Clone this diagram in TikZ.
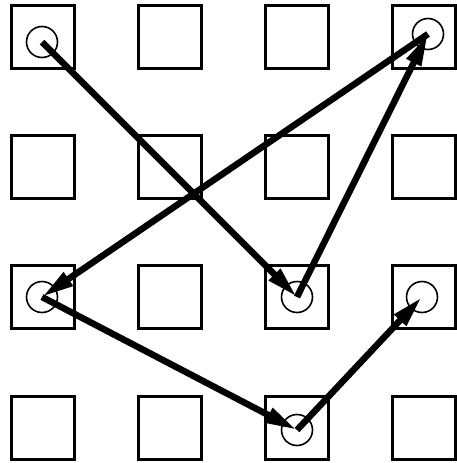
\documentclass[tikz,border=0pt]{standalone}
\usepackage{tikz}
\usetikzlibrary{arrows.meta}

\begin{document}
\begin{tikzpicture}[x=1pt, y=-1pt,
        cell/.style={rectangle, draw, line width=2.4pt, minimum size=63pt, inner sep=0pt},
        spot/.style={circle, draw, line width=1.6pt, minimum size=31pt, inner sep=0pt},
        move/.style={draw, line width=6.5pt, -{Triangle[length=32pt, width=15pt]}}]

        \useasboundingbox (0,0) rectangle (456,463);

        % Cells - 4x4 grid
        \foreach \c/\x in {0/43, 1/170, 2/297, 3/424}
            \foreach \r/\y in {0/37, 1/167, 2/297, 3/428}
                \node [cell] (s\r\c) at (\x,\y) {};

        % Visited spots
        \node [spot] (p00) at (42,42) {};
        \node [spot] (p03) at (428,34) {};
        \node [spot] (p20) at (42,297) {};
        \node [spot] (p22) at (297,297) {};
        \node [spot] (p23) at (422,297) {};
        \node [spot] (p32) at (297,430) {};

        % Moves
        \path [move] (p00.center) -- (p22.center);
        \path [move] (p22.center) -- (p03.center);
        \path [move] (p03.center) -- (p20.center);
        \path [move] (p20.center) -- (p32.center);
        \path [move] (p32.center) -- (p23.center);
\end{tikzpicture}
\end{document}
